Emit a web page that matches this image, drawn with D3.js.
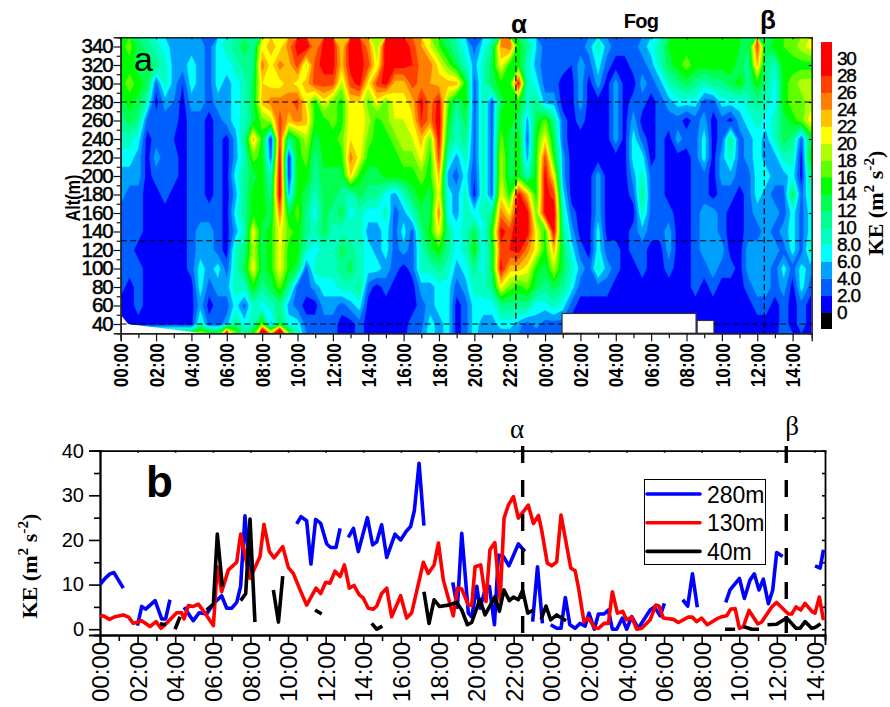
<!DOCTYPE html>
<html>
<head>
<meta charset="utf-8">
<script src="https://cdn.jsdelivr.net/npm/d3@7"></script>
<style>
body { margin: 0; background: white; }
text { fill: black; }
</style>
</head>
<body>
<div id="chart"></div>
<script>
// panel a: KE by altitude, one value every 30 min from 00:00 to 39:00
const ke340 = [15,17,13,11,9,7,5,5,5,5,3,7,9,11,13,11,21,23,21,25,29, 30,24,29,29,22,30,29,25,18,30,30,30,27,24,20,16,13,10,7,3, 7,11,24,26,15,11,6,3,3,3,3,3,5,9,5,3,3,3,5,7, 10,14,15,15,15,15,15,15,15,14,12,27,13,15,16,17,19,21];
const ke320 = [15,15,13,14,11,9,5,5,7,5,3,7,7,9,11,11,25,21,25,23,27, 19,27,29,29,23,29,29,27,20,30,29,29,28,25,25,21,17,13,9,5, 9,13,21,15,15,9,5,3,3,3,2,5,3,7,3,1,1,3,3,5, 9,13,15,17,15,15,15,15,15,13,11,23,11,9,15,15,15,15];
const ke300 = [15,17,15,13,3,9,5,2,7,5,3,7,5,7,9,13,22,21,21,23,21, 23,27,27,27,19,27,29,21,27,29,23,23,27,25,24,23,23,23,15,3, 9,13,15,15,29,9,7,3,3,1,1,5,1,5,1,5,1,1,5,3, 5,9,11,13,11,9,11,11,13,15,11,15,11,7,15,17,19,19];
const ke280 = [13,15,13,9,1,5,4,1,5,5,3,5,5,7,9,13,23,25,25,25,27, 21,15,21,17,15,21.9,21.9,17,21,17,21,21,23,29,25,29,17,11,15,3, 9,3,13,15,15,9,11,5,5,1,1,5,1,1,1,5,1,3,3,1, 3,5,7,7,7,3,3,7,7,7,9,11,9,7,15,17,17,19];
const ke260 = [11,13,11,3,3,3,3,1,3,3,1,3,5,7,9,13,17,19,27,23,25, 23,15,15,17,15,21.9,21.9,19,15,17,19.9,19.9,21.5,28,25,30,15,9,13,3, 9,3,15,15,13,5,13,17,11,3,1,3,1,1,1,5,1,5,1,1, 3,3,3,1,3,5,1,3,1,5,7,9,7,9,13,15,17,21];
const ke240 = [9,9,7,1,3,3,2,1,3,3,1,3,1,5,11,23,15,1,27,11,15, 19,13,15,15,17,21.9,21.9,17,15,15,17,19.9,19.9,23,17,29,13,9,11,3, 9,3,17,13,15,3,15,21,13,3,1,1,1,1,1,5,1,7,3,1, 3,1,5,3,3,7,1,3,11,3,5,7,5,9,13,11,3,13];
const ke220 = [7,7,5,1,5,3,3,1,3,3,1,3,1,5,9,17,15,3,29,1,15, 17,11,15,15,15,25,21,15,15,15,15,17,17,21,15,27,9,5,9,3, 9,3,19,13,15,5,15,27,15,5,1,1,1,1,1,1,1,7,7,1, 3,1,1,1,3,7,1,5,9,3,5,7,5,5,9,9,1,15];
const ke200 = [5,5,5,1,3,3,3,1,3,3,1,3,1,7,11,13,15,9,30,1,15, 15,11,13,13,13,22,15,13,13,15,15,15,15,17,15,23,5,3,7,2, 9,3,19,13,15,9,15,29,21,5,1,1,1,5,1,1,1,5,9,3, 3,1,1,1,3,3,1,5,5,3,3,7,7,5,5,7,1,11];
const ke180 = [5,3,3,1,1,3,1,1,3,3,1,3,1,5,11,15,15,11,30,5,15, 13,9,13,13,11,9,13,11,11,7,5,9,13,15,13,21,7,5,9,1, 9,3,21,15,29,23,15,29,27,7,1,1,1,5,1,1,1,3,11,3, 3,1,1,1,3,3,1,3,3,1,3,7,5,3,3,13,3,9];
const ke160 = [3,3,3,1,1,1,1,1,3,3,3,3,1,7,11,15,15,13,25,13,17, 11,7,13,11,13,7,9,7,7,9,3,5,9,13,13,25,7,5,9,7, 9,11,25,21,30,29,17,29,30,9,3,1,1,5,1,1,1,1,9,3, 3,3,1,1,3,5,5,3,1,1,3,5,5,5,3,7,3,7];
const ke140 = [3,3,3,1,1,1,1,1,3,5,5,3,1,5,9,21,13,15,21,17,15, 11,9,13,9,9,9,9,5,5,7,3,7,3,11,15,21,11,7,9,13, 7,15,29,27,30,29,21,15,29,11,5,1,1,7,1,1,1,3,5,3, 3,5,1,1,3,5,5,3,1,1,3,3,5,3,5,7,3,7];
const ke120 = [3,3,1,1,1,1,1,1,3,5,5,3,1,9,11,19,13,15,21,15,15, 9,7,9,9,13,11,9,7,5,7,3,5,3,9,13,15,11,7,9,15, 7,13,27,28,29,25,21,15,23,13,7,3,1,7,3,3,1,3,3,1, 1,5,1,1,3,5,5,5,1,1,5,5,5,5,3,7,3,9];
const ke100 = [3,3,3,1,1,1,1,1,3,7,5,7,3,9,13,21,13,15,21,15,13, 3,9,9,9,11,13,9,7,7,5,3,1,3,9,9,11,9,5,7,11, 7,13,29,23,23,21,15,13,19,13,9,5,3,9,5,3,1,1,3,1, 1,3,1,1,3,3,5,3,3,1,5,5,5,3,7,3,7,5];
const ke80 = [3,1,3,1,1,1,1,1,1,7,3,5,5,9,9,15,11,13,17,11,3, 3,5,7,7,9,9,11,3,1,3,1,1,1,5,5,7,7,3,5,9, 9,11,21,17,15,17,13,11,13,11,7,3,3,3,3,1,1,1,1,1, 1,1,1,1,3,1,3,1,1,1,3,5,5,3,5,1,7,3];
const ke60 = [1,1,3,1,1,1,1,1,1,5,1,3,3,7,3,9,7,9,11,5,3, 1,1,5,5,3,5,7,1,1,1,1,1,1,3,5,7,7,1,3,7, 7,7,11,11,11,11,7,7,9,7,3,1,1,1,1,1,1,1,1,1, 1,1,1,1,1,1,1,1,1,1,1,3,3,1,3,1,3,1];
const ke40 = [1,1,1,1,1,1,1,1,1,9,3,3,5,11,7,9,17,5,13,7,7, 3,3,3,3,1,1,3,1,1,1,1,1,3,3,7,5,7,1,3,7, 5,5,7,7,5,3,5,3,3,3,1,1,1,1,1,1,1,1,1,1, 1,1,1,1,1,1,1,1,1,1,1,1,1,1,3,1,3,1];
const ke20 = [1,3,24,28,28,28,28,28,28,28,28,26,60,24,15,22,60,40,70,30,12, 5,5,5,3,1,1,3,1,1,1,1,1,5,5,7,5,7,1,3,7, 3,3,3,3,3,1,1,1,1,1,1,1,1,1,1,1,1,1,1,1, 1,1,1,1,1,1,1,1,1,1,1,1,1,1,5,3,1,1];
const keRows = [ke20, ke40, ke60, ke80, ke100, ke120, ke140, ke160, ke180, ke200, ke220, ke240, ke260, ke280, ke300, ke320, ke340];

const keLevels = [0,2,4,6,8,10,12,14,16,18,20,22,24,26,28,30];
const keColours = ["#0000ff","#0060ff","#00a0ff","#00ffff","#00ffc0","#00ff90","#00ff50","#00ff00","#60ff00","#b0ff00","#ffff00","#ffc000","#ff8000","#ff4000","#ff0000","#ff0000"];
const barLabels = ["0","2.0","4.0","6.0","8.0","10","12","14","16","18","20","22","24","26","28","30"];

const altTicks = d3.range(40, 341, 20);
const markHoursA = [22.35, 36.4];
const guideAlts = [280, 130, 40];
const fogHours = [[24.96, 32.54], [32.6, 33.55]];
const fogTops = [51.4, 43.8];
const wedgeHours = [0, 0, 0.42, 4.6];
const wedgeAlts = [30, 50, 40, 30];

// panel b: null breaks a line
const hoursBlue = [0,.27,.53,.74,.98,1.24,1.6, 1.99,2.22,2.43,2.93,3.28,3.49,3.72,4.1, 4.47,4.96,5.28,5.67,6.03,6.47,6.74,7,7.27,7.48,7.71,7.98,9, 10.46,10.69,10.99,11.22,11.47,11.74,12.06,12.27,12.55,12.77,13, 13.21,13.48,13.74,14.22,14.5,14.72,14.98,15.25,15.69,15.99,16.28,16.52,16.72,16.97,17.23,18, 18.76,19.01,19.24,19.59,19.77,20.04,20.21,20.48,20.71,20.98,21.19,21.45,21.75,22.25,22.6,22.8, 23.01,23.27,23.53,23.7, 23.97,24.29,24.52,24.75,24.99,25.27,25.53,25.8,26.01,26.29,26.51,26.81,27.04,27.25,27.48,27.78,28.01,28.28,28.63,29.26,29.49,29.79,30.02,30.5, 30.99,31.26,31.51,31.77,32.5, 33.28,33.51,34.01,34.27,34.57,34.8,35.05,35.28,35.55,35.78,35.99,36.31,37, 38.03,38.3,38.48];
const keBlue = [10,11.4,12.4,12.7,11,9.2,null, .8,5.1,4.5,6.4,2.3,2.3,6.6,null, 4.9,1.9,3.7,3.4,5.7,7.5,4.7,4.7,6,9.6,25.4,11.8,null, 23.6,25.2,24.3,14.6,24.6,23.7,19.1,18.3,18.3,22.6,null, 20.6,22.6,17.4,25,18.9,19.6,23.4,16.1,21.3,20,21.9,23,26.6,37.2,23.2,null, 10.5,4.9,21.5,3.6,2.8,9.6,4.7,8.8,9.6,1,16.6,16.3,14.2,19.1,17.4,null, 1.7,14,1.3,null, 1,.2,.2,7.1,1,.2,1.3,.7,3.6,0,3.4,3.4,4.3,0,0,2.5,0,2.8,.2,4.3,5,3,5.8,null, 6.6,5.2,12.4,4.9,null, 6,8.8,11.4,6.9,11,12.4,8.8,11.2,5.7,8.8,17.2,16.3,null, 14.2,13.7,17.8];
const hoursRed = [0,.18,.5,.8,1.24,1.52,1.77,2.22,2.66,2.98,3.24,3.63,4.08,4.34,4.47,4.7,4.96,5.23,5.59,6.03,6.24,6.47,6.83,7.27,7.48,7.98,8.51,8.72,9.01,9.26,9.72,10.02,10.28,10.64,10.99,11.49,11.74,12,12.23,12.5,12.77,13,13.26,13.51,13.79,14,14.27,14.54,14.72,14.98,15.25,15.51,15.99,16.31,16.58,17.2,17.46,17.77,18,18.26,18.79,19.01,19.24,19.59,19.77,19.95,20.25,20.53,20.74,21,21.28,21.49,21.72,21.99,22.25,22.78,23.05,23.32,23.49,23.79,24.02,24.29,24.52,25.04,25.27,25.44,25.74,25.97,26.33,26.51,26.81,27.04,27.25,27.52,27.8,28.01,28.28,28.55,28.81,29.26,29.56,29.73,29.96,30.5,30.76,31.29,31.5,31.74,32,32.3,32.8,33.07,33.33,33.55,33.78,34.01,34.22,34.52,34.98,35.19,35.73,35.99,36.61,36.79,37.02,37.27,37.5,37.86,38.03,38.26,38.48];
const keRed = [2.8,3,2.2,2.8,3.2,2.7,1.3,1.9,.6,1.7,.2,1.7,3.7,3.7,2.3,5.3,5.1,5.6,3.6,.8,14,8.4,13.3,15,21.3,11.4,16.3,23.5,17.4,16,18.5,13.8,12.5,8.8,5.4,9.2,8,10.5,10.3,13,11.8,14.4,9.2,9.8,7.7,7,4.7,4.5,5.2,8,9.2,2.8,7.5,2.5,3.7,15,12.5,14.4,19.3,11,3,9.2,9,5.4,5.4,14,14.4,6.2,17.8,19.4,6.5,24.9,27.8,29.7,24.9,27.8,23.7,25.5,22.2,14.8,14.2,15.1,25.6,13.7,13.1,9.5,1.7,2.5,.2,.2,1.3,1.3,8.4,3.6,4,2.1,2.7,0,.2,2.1,5.4,5.2,2.5,2.2,1.5,2.7,2.7,1.7,2.5,1,2.3,2.8,3,4.5,4.6,.2,.6,4.2,1.2,1.6,5,6,3.4,3.4,5,4.3,5.8,4,3.6,7.2,2];
const hours40 = [3.19,3.51,3.7, 3.99,4.26,5, 5.67,6.03,6.24,6.51,7, 7.48,7.75,7.98,8.24,8.7, 9.22,9.49,9.72,10.5, 11.44,11.79,13, 14.45,14.72,15.02,16, 17.23,17.5,17.77,18.05,18.53,18.97,19.24,19.54,19.77,20.2,20.48,21.01,21.24,21.49,21.77,21.99,22.25,22.48,22.75,23.05,23.2, 23.46,23.72,23.97,24.29,24.79,29, 33.24,33.78,34, 34.22,34.66,35.05,35.3, 35.5,35.99,36.52,37.02,37.23,37.5,37.85,38.03,38.33];
const ke40m = [1.2,1,null, 0,2.8,null, 4.3,5.6,21.3,9.6,null, 6.4,8,24.7,1.6,null, 8.8,1.6,11.9,null, 4.3,3.4,null, 1.3,0,.7,null, 8.4,1.3,6.6,5.1,5.4,6,4.3,1,1.5,6.7,3.2,7.3,4,8.8,6.4,7.2,6.6,8.7,3.6,4.3,null, 2.2,5.2,2.1,3.2,1.9,null, 0,0,null, .6,0,0,null, 1,1.1,2.5,.2,.2,1.7,.2,.4,1.2];

const legendNames = ["280m", "130m", "40m"];
const lineColours = ["#0000ff", "#ff0000", "#000000"];
const markHoursB = [22.48, 36.5];

const width = 890;
const height = 707;
const sansFont = "'Liberation Sans', Arial, sans-serif";
const serifFont = "'Liberation Serif', 'Times New Roman', serif";

let svg = d3.select('#chart')
    .append('svg')
    .attr('width', width)
    .attr('height', height)
    .style('display', 'block');

const hourLabel = (h) => String(h % 24).padStart(2, '0') + ':00';

// ---------- panel a ----------
const xA = d3.scaleLinear().domain([0, 39.08]).range([120.7, 811.7]);
const yA = d3.scaleLinear().domain([30, 350]).range([333.25, 37.25]);

svg.append('clipPath').attr('id', 'plotA')
    .append('rect')
    .attr('x', xA(0)).attr('y', yA(350))
    .attr('width', xA(39.08) - xA(0)).attr('height', yA(30) - yA(350));

// contour cells are centred on x + 0.5, so step back to hours and metres
const toPanel = d3.geoTransform({
    point: function(cx, cy) {
        this.stream.point(xA((cx - 0.5) * 0.5), yA(20 + (cy - 0.5) * 20));
    }
});
const contourPath = d3.geoPath(toPanel);
const contours = d3.contours()
    .size([keRows[0].length, keRows.length])
    .thresholds(keLevels)
    .smooth(true)(keRows.flat());

let field = svg.append('g').attr('clip-path', 'url(#plotA)');
field.selectAll('path')
    .data(contours)
    .enter()
    .append('path')
    .attr('d', contourPath)
    .attr('fill', (d, i) => keColours[i])
    .attr('stroke', (d, i) => keColours[i])
    .attr('stroke-width', 0.3);

// white corner where there is no data
field.append('path')
    .attr('d', d3.line().x((d) => xA(d)).y((d, i) => yA(wedgeAlts[i]))(wedgeHours) + 'Z')
    .attr('fill', 'white');

// fog gap boxes
field.selectAll('.fog')
    .data(fogHours)
    .enter()
    .append('rect')
    .attr('class', 'fog')
    .attr('x', (d) => xA(d[0]))
    .attr('y', (d, i) => yA(fogTops[i]))
    .attr('width', (d) => xA(d[1]) - xA(d[0]))
    .attr('height', (d, i) => yA(30) - yA(fogTops[i]))
    .attr('fill', 'white')
    .attr('stroke', '#333')
    .attr('stroke-width', 1.2);

// dashed guides
let guides = svg.append('g')
    .attr('stroke', 'black')
    .attr('stroke-width', 1.2)
    .attr('stroke-dasharray', '6,3.5');
guideAlts.forEach(function(a) {
    guides.append('line')
        .attr('x1', xA(0)).attr('x2', a == 40 ? xA(24.96) : xA(39.08))
        .attr('y1', yA(a)).attr('y2', yA(a));
});
guides.append('line')
    .attr('x1', xA(33.55)).attr('x2', xA(39.08))
    .attr('y1', yA(40)).attr('y2', yA(40));
markHoursA.forEach(function(h, i) {
    guides.append('line')
        .attr('x1', xA(h)).attr('x2', xA(h))
        .attr('y1', yA(350)).attr('y2', i == 0 ? yA(40) : yA(30));
});

// axes of a
let axisA = svg.append('g');
axisA.append('g')
    .attr('transform', `translate(0, ${yA(30)})`)
    .call(d3.axisBottom(xA).tickValues(d3.range(1, 39, 2)).tickSize(5).tickFormat(''));
let xAxisA = axisA.append('g')
    .attr('transform', `translate(0, ${yA(30)})`)
    .call(d3.axisBottom(xA).tickValues(d3.range(0, 39, 2)).tickSize(8).tickFormat(hourLabel));
xAxisA.selectAll('text')
    .attr('transform', 'rotate(-90)')
    .attr('x', -10).attr('y', 0).attr('dy', '0.36em')
    .attr('textLength', 44)
    .attr('lengthAdjust', 'spacingAndGlyphs')
    .style('text-anchor', 'end')
    .style('font', `bold 20px ${sansFont}`);

axisA.append('g')
    .attr('transform', `translate(${xA(0)}, 0)`)
    .call(d3.axisLeft(yA).tickValues(d3.range(50, 340, 20)).tickSize(4).tickFormat(''));
let yAxisA = axisA.append('g')
    .attr('transform', `translate(${xA(0)}, 0)`)
    .call(d3.axisLeft(yA).tickValues(altTicks).tickSize(7).tickFormat((d) => d));
yAxisA.selectAll('text')
    .attr('x', -8)
    .attr('dy', '0.3em')
    .style('font', `20.5px ${sansFont}`)
    .style('stroke', 'black')
    .style('stroke-width', 0.5)
    .style('letter-spacing', '-1px');

axisA.append('g')
    .attr('transform', `translate(0, ${yA(350)})`)
    .call(d3.axisTop(xA).tickValues(d3.range(0, 39, 2)).tickSize(-2).tickFormat(''));
axisA.append('g')
    .attr('transform', `translate(${xA(39.08)}, 0)`)
    .call(d3.axisRight(yA).tickValues(d3.range(40, 341, 40)).tickSize(-3).tickFormat(''));
axisA.selectAll('.domain').attr('stroke', '#222').attr('stroke-width', 1.4);
axisA.selectAll('line').attr('stroke', '#111').attr('stroke-width', 1.2);

// colour bar
const barBox = 16.88;
const barBottom = 329.0;
svg.append('rect')
    .attr('x', 821).attr('y', barBottom - barBox)
    .attr('width', 11).attr('height', barBox)
    .attr('fill', 'black');
svg.selectAll('.barStep')
    .data(keColours)
    .enter()
    .append('rect')
    .attr('class', 'barStep')
    .attr('x', 821)
    .attr('y', (d, i) => barBottom - barBox * (i + 2))
    .attr('width', 11)
    .attr('height', barBox + 0.3)
    .attr('fill', (d) => d);
svg.selectAll('.barText')
    .data(barLabels)
    .enter()
    .append('text')
    .attr('class', 'barText')
    .attr('x', 837)
    .attr('y', (d, i) => barBottom - barBox * (i + 1) + 6.5)
    .style('font', `19px ${sansFont}`)
    .style('stroke', 'black')
    .style('stroke-width', 0.4)
    .style('letter-spacing', '-1.2px')
    .text((d) => d);

// ke label, rotated, with real superscripts
function keLabel(x, y, size) {
    let t = svg.append('text')
        .attr('transform', `translate(${x}, ${y}) rotate(-90)`)
        .attr('text-anchor', 'middle')
        .style('font', `bold ${size}px ${serifFont}`);
    t.append('tspan').text('KE (m');
    t.append('tspan').attr('dy', -size * 0.4).style('font-size', size * 0.7 + 'px').text('2');
    t.append('tspan').attr('dy', size * 0.4).text(' s');
    t.append('tspan').attr('dy', -size * 0.4).style('font-size', size * 0.7 + 'px').text('-2');
    t.append('tspan').attr('dy', size * 0.4).text(')');
}
keLabel(883, 203, 22);

svg.append('text')
    .attr('transform', 'translate(80, 198) rotate(-90)')
    .attr('text-anchor', 'middle')
    .attr('textLength', 47)
    .attr('lengthAdjust', 'spacingAndGlyphs')
    .style('font', `bold 20px ${sansFont}`)
    .text('Alt(m)');
svg.append('text').attr('x', 134).attr('y', 71)
    .style('font', `34px ${sansFont}`).text('a');
svg.append('text').attr('x', 519).attr('y', 33).attr('text-anchor', 'middle')
    .style('font', `bold 26px ${sansFont}`).text('α');
svg.append('text').attr('x', 641).attr('y', 28).attr('text-anchor', 'middle')
    .style('font', `bold 20px ${sansFont}`).style('letter-spacing', '-0.8px').text('Fog');
svg.append('text').attr('x', 768).attr('y', 29).attr('text-anchor', 'middle')
    .style('font', `bold 26px ${sansFont}`).text('β');

// ---------- panel b ----------
const xB = d3.scaleLinear().domain([0, 38.56]).range([100, 825]);
const yB = d3.scaleLinear().domain([-1.3, 40]).range([635, 450.7]);

svg.append('clipPath').attr('id', 'plotB')
    .append('rect')
    .attr('x', xB(0)).attr('y', yB(40))
    .attr('width', xB(38.56) - xB(0)).attr('height', yB(-1.3) - yB(40));

let axisB = svg.append('g');
axisB.append('g')
    .attr('transform', `translate(0, ${yB(-1.3)})`)
    .call(d3.axisBottom(xB).tickValues(d3.range(1, 38, 2)).tickSize(6).tickFormat(''));
let xAxisB = axisB.append('g')
    .attr('transform', `translate(0, ${yB(-1.3)})`)
    .call(d3.axisBottom(xB).tickValues(d3.range(0, 39, 2)).tickSize(10).tickFormat(hourLabel));
xAxisB.selectAll('text')
    .attr('transform', 'rotate(-90)')
    .attr('x', -7).attr('y', 0).attr('dy', '0.36em')
    .style('text-anchor', 'end')
    .style('font', `24px ${sansFont}`);

axisB.append('g')
    .attr('transform', `translate(${xB(0)}, 0)`)
    .call(d3.axisLeft(yB).tickValues(d3.range(5, 40, 10)).tickSize(6).tickFormat(''));
let yAxisB = axisB.append('g')
    .attr('transform', `translate(${xB(0)}, 0)`)
    .call(d3.axisLeft(yB).tickValues(d3.range(0, 41, 10)).tickSize(11).tickFormat((d) => d));
yAxisB.selectAll('text')
    .attr('x', -16)
    .style('font', `20px ${sansFont}`);

axisB.append('g')
    .attr('transform', `translate(0, ${yB(40)})`)
    .call(d3.axisTop(xB).tickValues(d3.range(0, 39, 2)).tickSize(-2).tickFormat(''));
axisB.append('g')
    .attr('transform', `translate(${xB(38.56)}, 0)`)
    .call(d3.axisRight(yB).tickValues(d3.range(0, 41, 5)).tickSize(-3).tickFormat(''));
axisB.selectAll('.domain').attr('stroke', 'black').attr('stroke-width', 1.8);
axisB.selectAll('line').attr('stroke', 'black').attr('stroke-width', 1.6);

// series
const seriesHours = [hoursBlue, hoursRed, hours40];
const seriesValues = [keBlue, keRed, ke40m];
seriesValues.forEach(function(vals, s) {
    const line = d3.line()
        .defined((d) => d != null)
        .x((d, i) => xB(seriesHours[s][i]))
        .y((d) => yB(d));
    svg.append('path')
        .datum(vals)
        .attr('clip-path', 'url(#plotB)')
        .attr('fill', 'none')
        .attr('stroke', lineColours[s])
        .attr('stroke-width', 3.6)
        .attr('stroke-linejoin', 'round')
        .attr('d', line);
});

// thick alpha and beta markers
markHoursB.forEach(function(h) {
    svg.append('line')
        .attr('x1', xB(h)).attr('x2', xB(h))
        .attr('y1', 446).attr('y2', 634)
        .attr('stroke', 'black')
        .attr('stroke-width', 3.4)
        .attr('stroke-dasharray', '17,17');
});

// legend
let legend = svg.append('g');
legend.append('rect')
    .attr('x', 644.5).attr('y', 479.5)
    .attr('width', 121).attr('height', 85)
    .attr('fill', 'white')
    .attr('stroke', 'black')
    .attr('stroke-width', 1);
legendNames.forEach(function(name, i) {
    const rowY = 494 + i * 28.7;
    legend.append('line')
        .attr('x1', 647).attr('x2', 700)
        .attr('y1', rowY).attr('y2', rowY)
        .attr('stroke', lineColours[i])
        .attr('stroke-width', 3.6)
        .attr('stroke-linecap', 'round');
    legend.append('text')
        .attr('x', 707).attr('y', rowY + 8.5)
        .style('font', `23px ${sansFont}`)
        .text(name);
});

keLabel(37, 566, 22);
svg.append('text').attr('x', 146).attr('y', 497)
    .style('font', `bold 44px ${sansFont}`).text('b');
svg.append('text').attr('x', 517).attr('y', 438).attr('text-anchor', 'middle')
    .style('font', `27px ${serifFont}`).text('α');
svg.append('text').attr('x', 792).attr('y', 435).attr('text-anchor', 'middle')
    .style('font', `27px ${serifFont}`).text('β');
</script>
</body>
</html>
